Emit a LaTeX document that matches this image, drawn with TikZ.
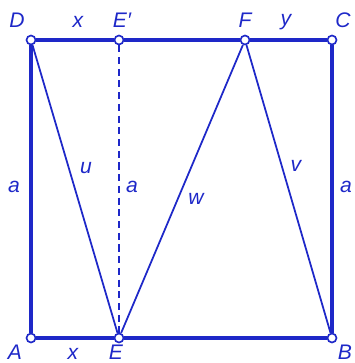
\documentclass[tikz,border=0pt]{standalone}
\usepackage{fontspec}
\setmainfont{Liberation Sans}
\usetikzlibrary{positioning}
\definecolor{lineblue}{RGB}{30,40,200}

\begin{document}
\begin{tikzpicture}[x=0.3mm, y=-0.3mm,
    pt/.style={circle, draw=lineblue, fill=white, line width=1.4pt, inner sep=0pt, minimum size=2.7mm},
    edge/.style={lineblue, line width=3.2pt},
    seg/.style={lineblue, line width=1.5pt},
    lbl/.style={text=lineblue, font=\fontsize{18}{20}\selectfont\itshape, inner sep=1pt}
]
    \useasboundingbox (0,0) rectangle (354,363);

    % Points
    \node[pt] (A) at (31,338) {};
    \node[pt] (E) at (119,338) {};
    \node[pt] (B) at (332,338) {};
    \node[pt] (D) at (31,40) {};
    \node[pt] (Ep) at (119,40) {};
    \node[pt] (F) at (245,40) {};
    \node[pt] (C) at (332,40) {};

    % Square
    \draw[edge] (A) -- (E);
    \draw[edge] (E) -- (B);
    \draw[edge] (B) -- (C);
    \draw[edge] (C) -- (F);
    \draw[edge] (F) -- (Ep);
    \draw[edge] (Ep) -- (D);
    \draw[edge] (D) -- (A);

    % Inner segments
    \draw[seg] (D) -- (E);
    \draw[seg] (E) -- (F);
    \draw[seg] (F) -- (B);
    \draw[seg, dash pattern=on 6pt off 4pt] (Ep) -- (E);

    % Point labels
    \node[lbl] (lD) at (17,20) {D};
    \node[lbl] (lEp) at (122,20) {E′};
    \node[lbl] (lF) at (245,20) {F};
    \node[lbl] (lC) at (343,20) {C};
    \node[lbl] (lA) at (15,352) {A};
    \node[lbl] (lE) at (116,352) {E};
    \node[lbl] (lB) at (345,352) {B};

    % Length labels
    \node[lbl] (lx1) at (78,22) {x};
    \node[lbl] (ly) at (286,22) {y};
    \node[lbl] (lx2) at (73,354) {x};
    \node[lbl] (la1) at (14,187) {a};
    \node[lbl] (la2) at (132,187) {a};
    \node[lbl] (la3) at (346,187) {a};
    \node[lbl] (lu) at (86,168) {u};
    \node[lbl] (lw) at (196,199) {w};
    \node[lbl] (lv) at (296,166) {v};
\end{tikzpicture}
\end{document}
